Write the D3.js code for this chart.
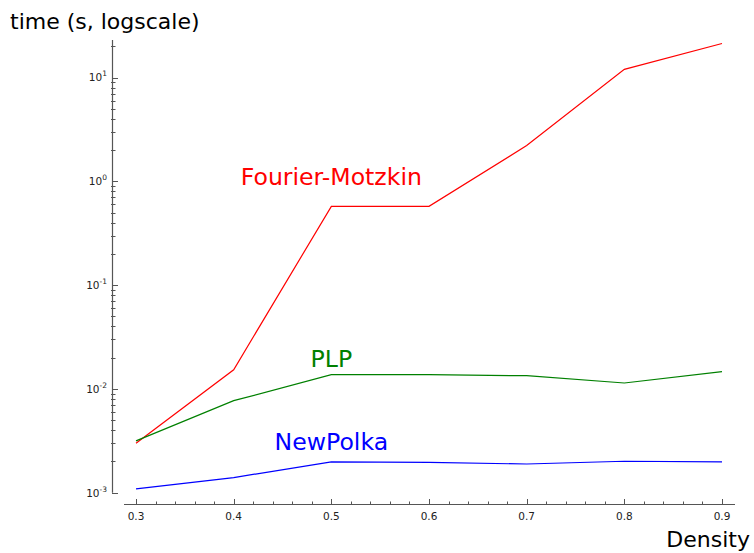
<!DOCTYPE html>
<html><head><meta charset="utf-8">
<script src="https://cdn.jsdelivr.net/npm/d3@7"></script>
<style>body{margin:0;background:#fff;} svg{display:block;font-family:"DejaVu Sans",sans-serif;}</style>
</head><body>
<svg id="c" width="754" height="553"></svg>
<script>
const density = [0.3, 0.4, 0.5, 0.6, 0.7, 0.8, 0.9];
const fourierMotzkin = [0.0030, 0.0153, 0.574, 0.574, 2.21, 12.0, 21.3];
const plp = [0.00316, 0.0077, 0.0137, 0.0137, 0.0134, 0.0114, 0.0147];
const newPolka = [0.00109, 0.0014, 0.00198, 0.00196, 0.00189, 0.00201, 0.00198];
const seriesNames = ["Fourier-Motzkin", "PLP", "NewPolka"];
const seriesColors = ["#ff0000", "#008000", "#0000ff"];
const labelX = [0.5, 0.5, 0.5];
const labelY = [0.93, 0.0161, 0.00257];
const xTicks = [0.3, 0.4, 0.5, 0.6, 0.7, 0.8, 0.9];
const yTickExps = [-3, -2, -1, 0, 1];

const svg = d3.select("#c");
const x = d3.scaleLinear().domain([0.2877, 0.9133]).range([124, 735]);
const y = d3.scaleLog().domain([0.001, 23]).range([492.7, 40]);
const axisColor = "#555";

// y axis
svg.append("line").attr("x1", 112.5).attr("x2", 112.5).attr("y1", y(0.001)).attr("y2", y(23))
  .attr("stroke", axisColor).attr("stroke-width", 1.2);
const yMinor = [];
for (let e = -3; e <= 1; e++) for (let m = 2; m <= 9; m++) { const v = m * Math.pow(10, e); if (v <= 23) yMinor.push(v); }
svg.selectAll(".ymin").data(yMinor).enter().append("line")
  .attr("x1", 111).attr("x2", 115.5).attr("y1", d => Math.round(y(d)) + 0.5).attr("y2", d => Math.round(y(d)) + 0.5)
  .attr("stroke", axisColor).attr("stroke-width", 1);
svg.selectAll(".ymaj").data(yTickExps).enter().append("line")
  .attr("x1", 112).attr("x2", 118).attr("y1", d => Math.round(y(Math.pow(10, d))) + 0.5).attr("y2", d => Math.round(y(Math.pow(10, d))) + 0.5)
  .attr("stroke", axisColor).attr("stroke-width", 1);
const yl = svg.selectAll(".ylab").data(yTickExps).enter().append("text")
  .attr("x", 107).attr("y", d => y(Math.pow(10, d)) + 3.8).attr("text-anchor", "end")
  .attr("font-size", 10.5).attr("fill", "#222");
yl.append("tspan").text("10");
yl.append("tspan").attr("dy", -5).attr("font-size", 7.5).text(d => String(d));

// x axis
svg.append("line").attr("x1", 124).attr("x2", 735).attr("y1", 504.5).attr("y2", 504.5)
  .attr("stroke", axisColor).attr("stroke-width", 1.2);
const xMinor = d3.range(0.3, 0.9001, 0.02);
svg.selectAll(".xmin").data(xMinor).enter().append("line")
  .attr("x1", d => Math.round(x(d)) + 0.5).attr("x2", d => Math.round(x(d)) + 0.5).attr("y1", 501.5).attr("y2", 505)
  .attr("stroke", axisColor).attr("stroke-width", 1);
svg.selectAll(".xmaj").data(xTicks).enter().append("line")
  .attr("x1", d => Math.round(x(d)) + 0.5).attr("x2", d => Math.round(x(d)) + 0.5).attr("y1", 499).attr("y2", 505)
  .attr("stroke", axisColor).attr("stroke-width", 1);
svg.selectAll(".xlab").data(xTicks).enter().append("text")
  .attr("x", d => x(d)).attr("y", 519.5).attr("text-anchor", "middle")
  .attr("font-size", 10.5).attr("fill", "#222").text(d => d.toFixed(1));

// lines
const allSeries = [fourierMotzkin, plp, newPolka];
const line = d3.line().x((d, i) => x(density[i])).y(d => y(d));
allSeries.forEach((s, k) => {
  svg.append("path").datum(s).attr("d", line).attr("fill", "none")
    .attr("stroke", seriesColors[k]).attr("stroke-width", 1.2);
  svg.append("text").attr("x", x(labelX[k])).attr("y", y(labelY[k])).attr("text-anchor", "middle")
    .attr("font-size", 23.6).attr("fill", seriesColors[k]).text(seriesNames[k]);
});

// axis titles
svg.append("text").attr("x", 10).attr("y", 28.5).attr("font-size", 22).attr("fill", "#000").text("time (s, logscale)");
svg.append("text").attr("x", 750).attr("y", 547).attr("text-anchor", "end").attr("font-size", 22).attr("fill", "#000").text("Density");
</script>
</body></html>
